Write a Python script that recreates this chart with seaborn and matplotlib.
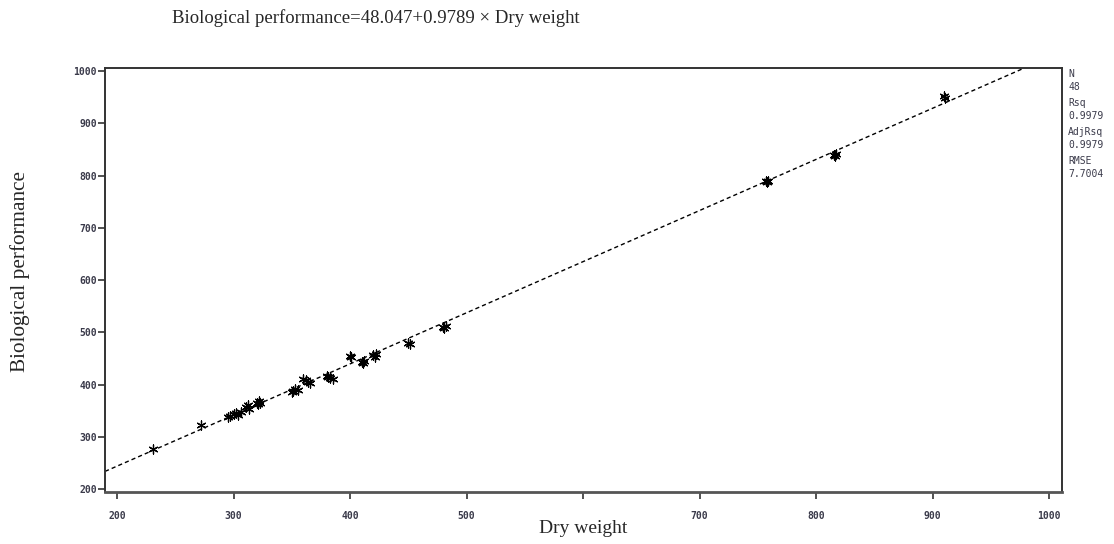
import numpy as np
import pandas as pd
import matplotlib
matplotlib.use("Agg")
import matplotlib.pyplot as plt
import seaborn as sns

# 读取的数据（从图中估计）
dry_weight = [231, 272, 295, 297, 300, 302, 304, 306, 311, 312, 313, 320, 321, 322, 323,
              350, 351, 353, 355, 360, 362, 364, 366, 380, 381, 383, 385, 400, 401,
              410, 411, 412, 420, 421, 422, 450, 451, 480, 481, 482, 757, 758, 759,
              815, 816, 817, 910, 911]
bio_perf = [277, 323, 338, 340, 343, 345, 342, 347, 357, 360, 353, 365, 362, 368, 364,
            386, 388, 391, 389, 410, 408, 405, 403, 417, 415, 413, 411, 455, 452,
            443, 441, 446, 456, 452, 458, 480, 478, 510, 508, 512, 789, 787, 790,
            840, 838, 842, 952, 948]
intercept = 48.047
slope = 0.9789
stat_names = ["N", "Rsq", "AdjRsq", "RMSE"]
stat_values = ["48", "0.9979", "0.9979", "7.7004"]
ticks = [200, 300, 400, 500, 600, 700, 800, 900, 1000]
# x轴的600标签被轴标题盖住
xtick_labels = ["200", "300", "400", "500", "", "700", "800", "900", "1000"]

df = pd.DataFrame({"Dry weight": dry_weight, "Biological performance": bio_perf})

sns.set_style("ticks")
plt.rcParams["font.family"] = ["DejaVu Sans"]

fig = plt.figure(figsize=(11.14, 5.44), dpi=100)
ax = fig.add_axes([0.0943, 0.0956, 0.859, 0.779])

# 回归线
ax.axline((0, intercept), slope=slope, color="black", lw=1.0, ls=(0, (3, 2.2)), zorder=1)
sns.scatterplot(data=df, x="Dry weight", y="Biological performance", ax=ax,
                marker=(6, 2, 0), color="black", s=42, linewidth=0.9, zorder=2)

ax.set_xlim(189.7, 1011)
ax.set_ylim(194.3, 1005.7)
ax.set_xticks(ticks)
ax.set_yticks(ticks)
mono = dict(family="DejaVu Sans Mono", size=7, weight="bold", color="#3a3a4a")
ax.set_xticklabels(xtick_labels, fontdict=mono)
ax.set_yticklabels([str(t) for t in ticks], fontdict=mono)
ax.tick_params(direction="out", length=5, width=1.2, color="#333333")
ax.tick_params(axis="x", pad=9)
ax.tick_params(axis="y", pad=1)
for sp in ax.spines.values():
    sp.set_color("#333333")
    sp.set_linewidth(1.4)
ax.spines["bottom"].set_linewidth(2.0)
ax.spines["bottom"].set_color("#555555")

serif = ["Liberation Serif", "DejaVu Serif"]
ax.set_xlabel("Dry weight", family=serif, size=14)
ax.xaxis.set_label_coords(0.5, -0.066)
ax.set_ylabel("Biological performance", family=serif, size=15.3)
ax.yaxis.set_label_coords(-0.078, 0.52)
fig.text(0.337, 0.966, "Biological performance=48.047+0.9789 \u00d7 Dry weight",
         family=serif, size=13.5, ha="center", va="center")

# 右侧统计量
y0 = 0.864
for i, (n, v) in enumerate(zip(stat_names, stat_values)):
    yy = y0 - i * 0.0535
    fig.text(0.959, yy, n, family="DejaVu Sans Mono", size=7, color="#3a3a4a", va="center")
    fig.text(0.959, yy - 0.024, v, family="DejaVu Sans Mono", size=7, color="#3a3a4a", va="center")

fig.savefig("out.png", dpi=100)
